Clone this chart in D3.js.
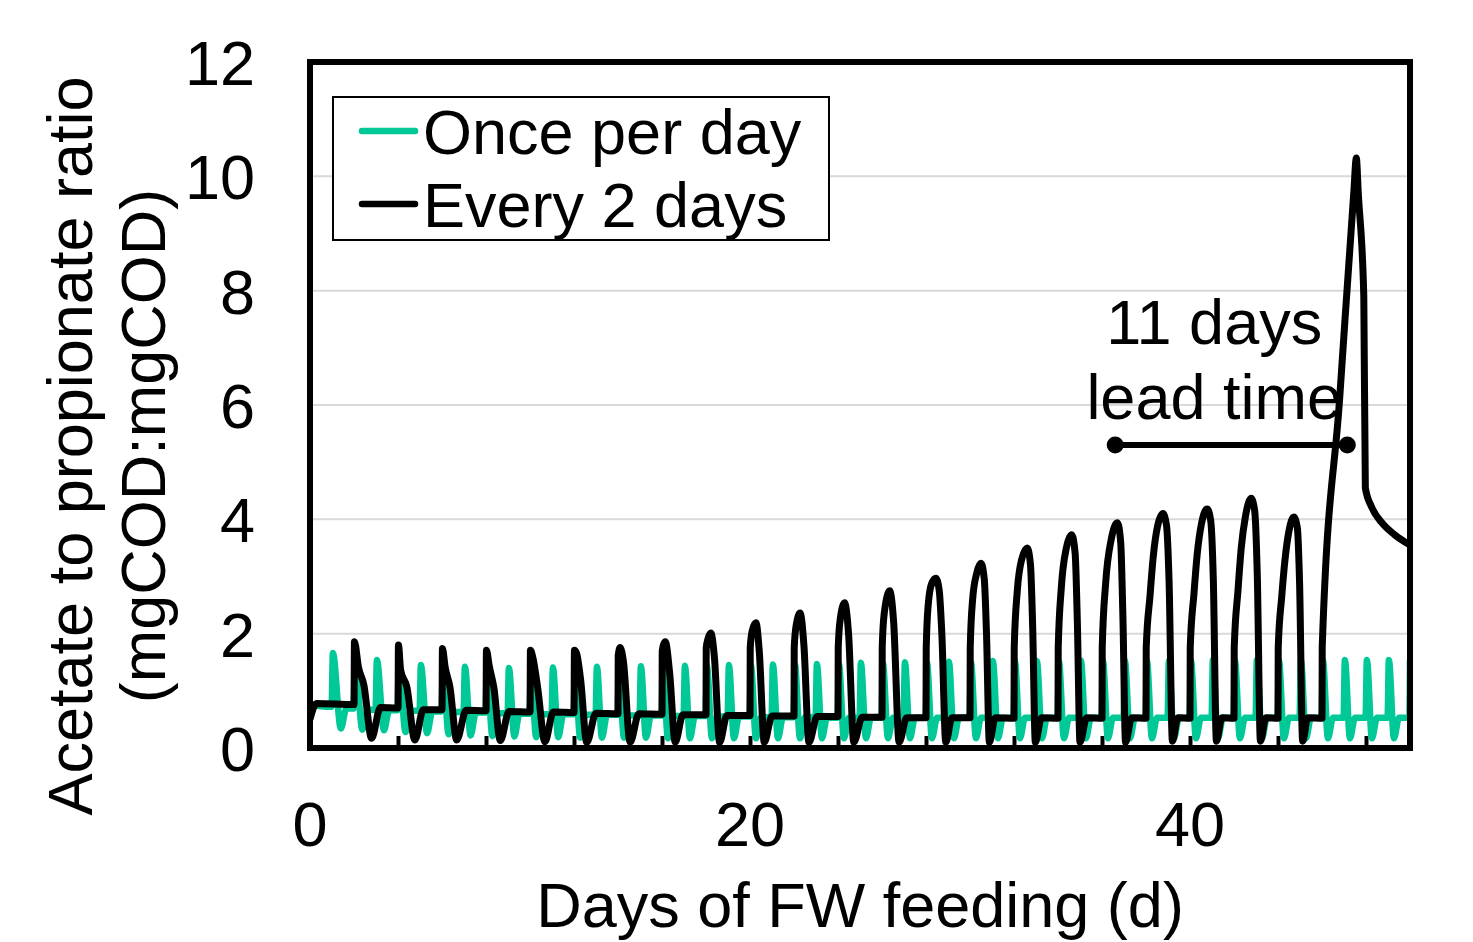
<!DOCTYPE html>
<html>
<head>
<meta charset="utf-8">
<script src="https://cdn.jsdelivr.net/npm/d3@7"></script>
<style>
  body { margin: 0; background: #fff; }
  text { font-family: "Liberation Sans", Arial, sans-serif; fill: #000; }
</style>
</head>
<body>
<svg width="1473" height="942"></svg>
<script>
// ---- data ----
const xTicks = [0, 4, 8, 12, 16, 20, 24, 28, 32, 36, 40, 44, 48];
const xTickLabels = [0, 20, 40];
const yTickLabels = [0, 2, 4, 6, 8, 10, 12];
const seriesNames = ["Once per day", "Every 2 days"];
const seriesColors = ["#00c896", "#000000"];

// [day, ratio]
const oncePerDay = [
  [0, 0.76], [0.5, 0.73],
  [0.98, 0.72], [1.04, 1.66], [1.4, 0.34], [1.65, 0.69],
  [1.98, 0.69], [2.04, 1.6], [2.38, 0.32], [2.62, 0.67],
  [2.98, 0.67], [3.04, 1.54], [3.36, 0.31], [3.6, 0.66],
  [3.98, 0.66], [4.04, 1.5], [4.34, 0.28], [4.58, 0.65],
  [4.98, 0.65], [5.04, 1.45], [5.32, 0.26], [5.56, 0.64],
  [5.98, 0.64], [6.04, 1.43], [6.3, 0.24], [6.55, 0.63],
  [6.98, 0.63], [7.04, 1.42], [7.3, 0.22], [7.54, 0.62],
  [7.98, 0.62], [8.04, 1.41], [8.29, 0.21], [8.53, 0.61],
  [8.98, 0.61], [9.04, 1.4], [9.29, 0.2], [9.52, 0.6],
  [9.98, 0.6], [10.04, 1.4], [10.28, 0.19], [10.52, 0.59],
  [10.98, 0.59], [11.04, 1.41], [11.28, 0.19], [11.52, 0.59],
  [11.98, 0.59], [12.04, 1.41], [12.28, 0.18], [12.52, 0.58],
  [12.98, 0.58], [13.04, 1.42], [13.27, 0.18], [13.5, 0.58],
  [13.98, 0.58], [14.04, 1.42], [14.27, 0.18], [14.5, 0.57],
  [14.98, 0.57], [15.04, 1.43], [15.27, 0.18], [15.5, 0.57],
  [15.98, 0.57], [16.04, 1.43], [16.27, 0.17], [16.5, 0.56],
  [16.98, 0.56], [17.04, 1.44], [17.27, 0.17], [17.5, 0.56],
  [17.98, 0.56], [18.04, 1.44], [18.27, 0.17], [18.5, 0.55],
  [18.98, 0.55], [19.04, 1.45], [19.27, 0.17], [19.5, 0.55],
  [19.98, 0.55], [20.04, 1.45], [20.27, 0.17], [20.5, 0.54],
  [20.98, 0.54], [21.04, 1.46], [21.27, 0.17], [21.5, 0.54],
  [21.98, 0.54], [22.04, 1.47], [22.27, 0.17], [22.5, 0.54],
  [22.98, 0.54], [23.04, 1.47], [23.27, 0.17], [23.5, 0.53],
  [23.98, 0.53], [24.04, 1.48], [24.27, 0.17], [24.5, 0.53],
  [24.98, 0.53], [25.04, 1.49], [25.27, 0.17], [25.5, 0.53],
  [25.98, 0.53], [26.04, 1.49], [26.27, 0.17], [26.5, 0.53],
  [26.98, 0.53], [27.04, 1.5], [27.27, 0.17], [27.5, 0.53],
  [27.98, 0.53], [28.04, 1.5], [28.27, 0.17], [28.5, 0.53],
  [28.98, 0.53], [29.04, 1.51], [29.27, 0.17], [29.5, 0.53],
  [29.98, 0.53], [30.04, 1.51], [30.27, 0.17], [30.5, 0.53],
  [30.98, 0.53], [31.04, 1.52], [31.27, 0.17], [31.5, 0.53],
  [31.98, 0.53], [32.04, 1.52], [32.27, 0.17], [32.5, 0.53],
  [32.98, 0.53], [33.04, 1.52], [33.27, 0.17], [33.5, 0.53],
  [33.98, 0.53], [34.04, 1.52], [34.27, 0.17], [34.5, 0.53],
  [34.98, 0.53], [35.04, 1.53], [35.27, 0.17], [35.5, 0.53],
  [35.98, 0.53], [36.04, 1.53], [36.27, 0.17], [36.5, 0.53],
  [36.98, 0.53], [37.04, 1.53], [37.27, 0.17], [37.5, 0.53],
  [37.98, 0.53], [38.04, 1.53], [38.27, 0.17], [38.5, 0.53],
  [38.98, 0.53], [39.04, 1.53], [39.27, 0.17], [39.5, 0.53],
  [39.98, 0.53], [40.04, 1.54], [40.27, 0.17], [40.5, 0.53],
  [40.98, 0.53], [41.04, 1.54], [41.27, 0.17], [41.5, 0.53],
  [41.98, 0.53], [42.04, 1.54], [42.27, 0.17], [42.5, 0.53],
  [42.98, 0.53], [43.04, 1.54], [43.27, 0.17], [43.5, 0.53],
  [43.98, 0.53], [44.04, 1.54], [44.27, 0.17], [44.5, 0.53],
  [44.98, 0.53], [45.04, 1.54], [45.27, 0.17], [45.5, 0.53],
  [45.98, 0.53], [46.04, 1.54], [46.27, 0.17], [46.5, 0.53],
  [46.98, 0.53], [47.04, 1.54], [47.27, 0.17], [47.5, 0.53],
  [47.98, 0.53], [48.04, 1.54], [48.27, 0.17], [48.5, 0.53],
  [48.98, 0.53], [49.04, 1.54], [49.27, 0.17], [49.5, 0.53],
  [49.97, 0.53], [50, 1.55]
];

const everyTwoDays = [
  [0, 0.5], [0.3, 0.78], [2.0, 0.76],
  [2.02, 1.86], [2.2, 1.42], [2.45, 1.1], [2.8, 0.17], [3.2, 0.71], [4.0, 0.7],
  [4.02, 1.8], [4.12, 1.36], [4.4, 1.07], [4.77, 0.14], [5.15, 0.67], [6.0, 0.67],
  [6.02, 1.74], [6.14, 1.42], [6.36, 1.07], [6.67, 0.14], [7.1, 0.66], [8.0, 0.65],
  [8.02, 1.71], [8.14, 1.45], [8.36, 1.05], [8.65, 0.13], [9.05, 0.64], [10.0, 0.63],
  [10.02, 1.71], [10.12, 1.6], [10.35, 1.05], [10.68, 0.11], [11.06, 0.63], [12.0, 0.62],
  [12.02, 1.71], [12.12, 1.65], [12.3, 1.2], [12.58, 0.1], [13.0, 0.61], [14.0, 0.6],
  [14.01, 1.62], [14.1, 1.76], [14.25, 1.5], [14.55, 0.1], [14.95, 0.6], [16.0, 0.59],
  [16.01, 1.7], [16.15, 1.86], [16.35, 1.3], [16.6, 0.1], [16.95, 0.58], [18.0, 0.58],
  [18.01, 1.75], [18.1, 1.92], [18.22, 2.01], [18.38, 1.6], [18.62, 0.1], [18.95, 0.57], [20.0, 0.57],
  [20.01, 1.75], [20.1, 2.05], [20.27, 2.19], [20.42, 1.7], [20.65, 0.1], [21.0, 0.56], [22.0, 0.56],
  [22.01, 1.75], [22.1, 2.15], [22.28, 2.36], [22.45, 1.8], [22.68, 0.1], [23.05, 0.55], [24.0, 0.55],
  [24.01, 1.75], [24.1, 2.25], [24.3, 2.54], [24.48, 2.0], [24.72, 0.1], [25.1, 0.54], [26.0, 0.54],
  [26.01, 1.75], [26.1, 2.35], [26.35, 2.75], [26.53, 2.2], [26.78, 0.1], [27.12, 0.53], [28.0, 0.53],
  [28.01, 1.75], [28.1, 2.5], [28.26, 2.88], [28.45, 2.97], [28.6, 2.76], [28.72, 2.0], [28.9, 0.1], [29.18, 0.53], [30.0, 0.53],
  [30.01, 1.75], [30.12, 2.6], [30.3, 3.05], [30.5, 3.23], [30.65, 2.95], [30.75, 2.0], [30.88, 0.1], [31.15, 0.53], [32.0, 0.52],
  [32.01, 1.75], [32.15, 2.75], [32.35, 3.3], [32.6, 3.5], [32.75, 3.2], [32.85, 2.1], [32.97, 0.1], [33.25, 0.53], [34.0, 0.52],
  [34.01, 1.75], [34.15, 2.8], [34.38, 3.5], [34.62, 3.73], [34.78, 3.4], [34.88, 2.2], [35.0, 0.1], [35.3, 0.53], [36.0, 0.52],
  [36.01, 1.75], [36.17, 2.9], [36.42, 3.65], [36.7, 3.94], [36.85, 3.6], [36.95, 2.3], [37.07, 0.1], [37.35, 0.53], [38.0, 0.52],
  [38.01, 1.75], [38.18, 2.65], [38.33, 3.35], [38.52, 3.87], [38.77, 4.1], [38.93, 3.9], [39.05, 2.9], [39.2, 0.12], [39.45, 0.53], [40.0, 0.52],
  [40.01, 1.75], [40.18, 2.7], [40.33, 3.4], [40.52, 3.92], [40.78, 4.18], [40.94, 3.98], [41.06, 2.95], [41.2, 0.12], [41.45, 0.53], [42.0, 0.52],
  [42.01, 1.75], [42.18, 2.75], [42.33, 3.5], [42.52, 4.05], [42.78, 4.37], [42.94, 4.15], [43.06, 3.0], [43.2, 0.12], [43.45, 0.53], [44.0, 0.52],
  [44.01, 1.75], [44.17, 2.65], [44.32, 3.3], [44.5, 3.8], [44.72, 4.04], [44.88, 3.85], [44.98, 2.9], [45.12, 0.12], [45.35, 0.53], [46.0, 0.52],
  [46.01, 1.77], [46.8, 6.1], [47.45, 9.75], [47.56, 10.32], [47.65, 9.7], [47.9, 7.9],
  [47.97, 4.55], [48.25, 4.22], [48.7, 3.95], [49.3, 3.73], [50, 3.55]
];

// annotation: lead time bracket (days) at ratio level
const leadTime = { from: 36.6, to: 47.15, level: 5.3 };
const leadLabel = ["11 days", "lead time"];

const xAxisLabel = "Days of FW feeding (d)";
const yAxisLabel = ["Acetate to propionate ratio", "(mgCOD:mgCOD)"];

// ---- drawing ----
const svg = d3.select("svg");
const width = +svg.attr("width");
const height = +svg.attr("height");

const margin = { top: 62, right: 63, bottom: 194, left: 310 };
const innerWidth = width - margin.left - margin.right;
const innerHeight = height - margin.top - margin.bottom;

const xScale = d3.scaleLinear().domain([0, 50]).range([margin.left, margin.left + innerWidth]);
const yScale = d3.scaleLinear().domain([0, 12]).range([margin.top + innerHeight, margin.top]);

svg.append("rect").attr("width", width).attr("height", height).attr("fill", "#fff");

svg.append("clipPath").attr("id", "plot-clip")
  .append("rect")
  .attr("x", margin.left)
  .attr("y", margin.top)
  .attr("width", innerWidth)
  .attr("height", innerHeight);

// gridlines
svg.append("g")
  .selectAll("line")
  .data(yTickLabels.filter(d => d > 0 && d < 12))
  .join("line")
  .attr("x1", margin.left)
  .attr("x2", margin.left + innerWidth)
  .attr("y1", d => yScale(d))
  .attr("y2", d => yScale(d))
  .attr("stroke", "#d9d9d9")
  .attr("stroke-width", 2);

// x axis: inward ticks only
const xAxis = d3.axisBottom(xScale)
  .tickValues(xTicks)
  .tickSize(-12)
  .tickFormat("");

const xAxisG = svg.append("g")
  .attr("transform", `translate(0,${margin.top + innerHeight})`)
  .call(xAxis);
xAxisG.select(".domain").remove();
xAxisG.selectAll(".tick line").attr("stroke", "#000").attr("stroke-width", 4);

// series
const lineGenerator = d3.line()
  .x(d => xScale(d[0]))
  .y(d => yScale(d[1]))
  .curve(d3.curveMonotoneX);

const lines = svg.append("g").attr("clip-path", "url(#plot-clip)");

lines.append("path")
  .attr("d", lineGenerator(oncePerDay))
  .attr("fill", "none")
  .attr("stroke", seriesColors[0])
  .attr("stroke-width", 6.5)
  .attr("stroke-linejoin", "round");

lines.append("path")
  .attr("d", lineGenerator(everyTwoDays))
  .attr("fill", "none")
  .attr("stroke", seriesColors[1])
  .attr("stroke-width", 7)
  .attr("stroke-linejoin", "round");

// plot border
svg.append("rect")
  .attr("x", margin.left)
  .attr("y", margin.top)
  .attr("width", innerWidth)
  .attr("height", innerHeight)
  .attr("fill", "none")
  .attr("stroke", "#000")
  .attr("stroke-width", 6);

// lead time annotation
svg.append("line")
  .attr("x1", xScale(leadTime.from))
  .attr("x2", xScale(leadTime.to))
  .attr("y1", yScale(leadTime.level))
  .attr("y2", yScale(leadTime.level))
  .attr("stroke", "#000")
  .attr("stroke-width", 6);

svg.selectAll(".lead-dot")
  .data([leadTime.from, leadTime.to])
  .join("circle")
  .attr("class", "lead-dot")
  .attr("cx", d => xScale(d))
  .attr("cy", yScale(leadTime.level))
  .attr("r", 8.5)
  .attr("fill", "#000");

svg.append("g")
  .selectAll("text")
  .data(leadLabel)
  .join("text")
  .attr("x", xScale(leadTime.from) + 99)
  .attr("y", (d, i) => yScale(leadTime.level) - 101 + i * 75)
  .attr("text-anchor", "middle")
  .attr("font-size", 63)
  .text(d => d);

// tick labels
svg.append("g")
  .selectAll("text")
  .data(yTickLabels)
  .join("text")
  .attr("x", margin.left - 55)
  .attr("y", d => yScale(d) + 23)
  .attr("text-anchor", "end")
  .attr("font-size", 63)
  .text(d => d);

svg.append("g")
  .selectAll("text")
  .data(xTickLabels)
  .join("text")
  .attr("x", d => xScale(d))
  .attr("y", margin.top + innerHeight + 98)
  .attr("text-anchor", "middle")
  .attr("font-size", 63)
  .text(d => d);

// axis titles
svg.append("text")
  .attr("x", margin.left + innerWidth / 2)
  .attr("y", 927)
  .attr("text-anchor", "middle")
  .attr("font-size", 63)
  .text(xAxisLabel);

svg.append("g")
  .selectAll("text")
  .data(yAxisLabel)
  .join("text")
  .attr("transform", (d, i) => `translate(${92 + i * 73},446) rotate(-90)`)
  .attr("text-anchor", "middle")
  .attr("font-size", 63)
  .text(d => d);

// legend
const legend = svg.append("g").attr("transform", "translate(333,97)");
legend.append("rect")
  .attr("width", 496)
  .attr("height", 143)
  .attr("fill", "#fff")
  .attr("stroke", "#000")
  .attr("stroke-width", 2);

const items = legend.selectAll(".item")
  .data(seriesNames)
  .join("g")
  .attr("class", "item")
  .attr("transform", (d, i) => `translate(0,${34 + i * 73})`);

items.append("line")
  .attr("x1", 29)
  .attr("x2", 82)
  .attr("stroke", (d, i) => seriesColors[i])
  .attr("stroke-width", 6.5)
  .attr("stroke-linecap", "round");

items.append("text")
  .attr("x", 90)
  .attr("y", 23)
  .attr("font-size", 63)
  .text(d => d);
</script>
</body>
</html>
